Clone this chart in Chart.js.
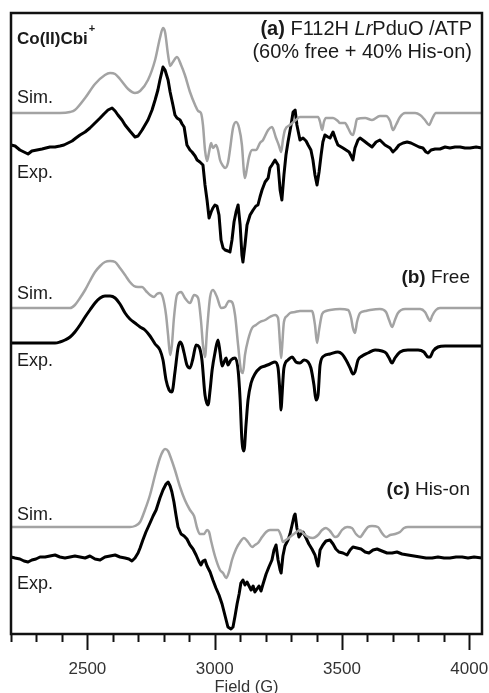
<!DOCTYPE html>
<html>
<head>
<meta charset="utf-8">
<script src="https://cdn.jsdelivr.net/npm/chart.js@4"></script>
<style>
  body { margin: 0; background: #fff; }
  #spectra { display: block; }
</style>
</head>
<body>
<canvas id="spectra" width="489" height="693"></canvas>
<script>
// EPR spectra of Co(II)Cbi+ : [field (G), derivative signal (arb. units)]
const simA = [[2200,0],[2392,0],[2432,1],[2451,3],[2491,15],[2530,29],[2569,38],[2589,40],[2609,39],[2628,34],[2660,24],[2687,20],[2707,22],[2738,33],[2766,53],[2785,75],[2797,85],[2805,81],[2817,58],[2825,47],[2836,51],[2852,56],[2868,48],[2883,38],[2903,21],[2923,8],[2935,2],[2946,0],[2954,-12],[2962,-37],[2970,-48],[2978,-39],[2986,-30],[2993,-35],[3005,-32],[3013,-37],[3021,-47],[3033,-53],[3041,-55],[3052,-50],[3060,-37],[3072,-15],[3084,-9],[3096,-15],[3107,-32],[3115,-59],[3119,-65],[3127,-55],[3135,-44],[3147,-37],[3162,-37],[3178,-30],[3190,-27],[3210,-17],[3225,-14],[3241,-25],[3253,-33],[3261,-39],[3268,-27],[3276,-17],[3296,-12],[3319,-7],[3335,-4],[3374,-4],[3406,-4],[3414,-9],[3422,-17],[3429,-9],[3437,-5],[3465,-5],[3484,-8],[3492,-10],[3512,-10],[3524,-15],[3536,-21],[3543,-22],[3551,-15],[3559,-6],[3591,-5],[3618,-7],[3649,-3],[3673,-3],[3689,-8],[3700,-17],[3712,-12],[3728,-4],[3748,0],[3787,0],[3807,-2],[3826,-7],[3842,-12],[3854,-6],[3869,0],[4050,0]];

const expA = [[2200,2],[2216,1],[2235,-3],[2251,-5],[2267,-7],[2282,-4],[2302,-3],[2322,-2],[2337,-1],[2353,0],[2373,0],[2392,1],[2408,2],[2424,4],[2440,6],[2455,9],[2471,12],[2491,15],[2510,19],[2530,24],[2550,29],[2565,33],[2581,37],[2597,39],[2609,36],[2620,32],[2636,27],[2648,22],[2667,16],[2687,10],[2699,11],[2715,17],[2738,27],[2754,37],[2766,47],[2777,57],[2785,67],[2797,80],[2805,77],[2817,67],[2825,55],[2836,42],[2844,32],[2852,29],[2864,27],[2872,23],[2880,20],[2891,2],[2903,-3],[2911,-5],[2923,-9],[2931,-13],[2942,-15],[2954,-18],[2962,-38],[2970,-53],[2978,-71],[2986,-65],[2993,-61],[3001,-58],[3009,-59],[3017,-68],[3025,-93],[3033,-101],[3041,-103],[3052,-104],[3060,-105],[3068,-93],[3076,-75],[3084,-65],[3092,-58],[3100,-78],[3107,-108],[3111,-115],[3119,-98],[3127,-78],[3139,-68],[3151,-63],[3162,-59],[3170,-58],[3178,-50],[3186,-43],[3198,-35],[3210,-31],[3217,-21],[3225,-18],[3237,-13],[3249,-18],[3257,-43],[3264,-53],[3272,-28],[3280,-8],[3288,5],[3300,22],[3308,35],[3316,37],[3323,22],[3335,7],[3347,9],[3359,6],[3367,2],[3378,-3],[3386,-13],[3394,-28],[3402,-38],[3410,-25],[3418,-8],[3425,5],[3433,12],[3445,10],[3453,9],[3465,15],[3476,7],[3484,2],[3504,-1],[3516,-3],[3528,-5],[3536,-9],[3543,-13],[3551,-1],[3563,7],[3571,9],[3587,6],[3602,3],[3618,0],[3634,5],[3649,7],[3669,2],[3689,-1],[3700,-5],[3712,-2],[3724,2],[3740,4],[3756,5],[3771,4],[3787,2],[3803,0],[3818,-1],[3830,-5],[3838,-6],[3850,-3],[3866,-2],[3885,-2],[3905,0],[3924,-1],[3944,0],[3964,0],[3983,-1],[4003,-1],[4027,0],[4050,-1]];

const simB = [[2200,0],[2432,0],[2451,3],[2471,10],[2491,18],[2510,27],[2530,36],[2550,42],[2569,46],[2589,47],[2609,46],[2628,40],[2648,33],[2667,26],[2683,22],[2699,21],[2715,21],[2730,17],[2746,13],[2762,11],[2773,14],[2785,15],[2797,10],[2809,-7],[2817,-27],[2825,-47],[2832,-37],[2840,-10],[2852,13],[2868,16],[2883,10],[2903,5],[2919,13],[2935,10],[2946,-12],[2954,-37],[2962,-49],[2970,-22],[2982,11],[2993,18],[3009,11],[3025,0],[3041,1],[3056,7],[3068,6],[3080,-7],[3092,-37],[3103,-62],[3111,-65],[3119,-47],[3131,-32],[3147,-20],[3162,-17],[3178,-14],[3198,-12],[3217,-9],[3237,-7],[3249,-10],[3257,-37],[3261,-50],[3264,-42],[3272,-14],[3284,-8],[3296,-5],[3316,-4],[3335,-3],[3359,-3],[3382,-3],[3394,-17],[3402,-35],[3410,-22],[3422,-6],[3437,-3],[3453,-2],[3492,-1],[3524,-2],[3536,-10],[3543,-20],[3551,-25],[3559,-14],[3571,-5],[3591,-3],[3610,-2],[3649,-1],[3673,-4],[3685,-12],[3697,-19],[3708,-12],[3720,-5],[3748,-1],[3807,-1],[3826,-4],[3838,-10],[3846,-13],[3854,-8],[3869,-2],[3885,0],[4050,0]];

const expB = [[2200,0],[2373,0],[2392,1],[2412,3],[2432,6],[2451,11],[2471,18],[2491,26],[2510,33],[2530,40],[2550,45],[2569,47],[2589,47],[2609,45],[2628,39],[2648,30],[2667,24],[2687,20],[2707,16],[2726,13],[2746,7],[2766,-1],[2785,-7],[2797,-17],[2809,-37],[2821,-47],[2832,-49],[2844,-29],[2856,-5],[2864,1],[2872,-2],[2880,-10],[2891,-22],[2903,-25],[2915,-15],[2927,-2],[2939,-4],[2950,-17],[2962,-52],[2974,-62],[2982,-47],[2990,-27],[3001,-10],[3013,3],[3021,-9],[3029,-23],[3037,-19],[3045,-15],[3052,-22],[3064,-17],[3080,-15],[3092,-27],[3100,-57],[3107,-97],[3115,-108],[3123,-82],[3131,-57],[3143,-40],[3158,-31],[3178,-25],[3198,-23],[3217,-21],[3237,-19],[3249,-25],[3257,-52],[3261,-67],[3264,-55],[3272,-25],[3288,-17],[3304,-14],[3319,-19],[3335,-20],[3351,-17],[3367,-19],[3378,-25],[3390,-42],[3398,-57],[3406,-52],[3414,-22],[3429,-13],[3453,-11],[3484,-9],[3500,-11],[3516,-17],[3532,-25],[3543,-31],[3551,-29],[3563,-17],[3579,-13],[3602,-10],[3630,-7],[3657,-8],[3673,-10],[3685,-15],[3697,-20],[3708,-15],[3728,-9],[3759,-7],[3799,-7],[3822,-9],[3838,-14],[3846,-14],[3858,-8],[3877,-4],[3905,-3],[4050,-3]];

const simC = [[2200,0],[2667,0],[2687,1],[2707,5],[2726,17],[2746,32],[2766,52],[2785,69],[2797,76],[2805,78],[2817,76],[2828,69],[2844,57],[2864,40],[2883,27],[2903,17],[2919,11],[2931,-1],[2942,-7],[2958,-7],[2970,-3],[2978,-5],[2986,-14],[3001,-29],[3021,-43],[3033,-46],[3045,-51],[3056,-45],[3068,-33],[3084,-22],[3100,-15],[3115,-11],[3131,-15],[3147,-20],[3158,-18],[3170,-16],[3186,-10],[3202,-5],[3217,-3],[3249,-3],[3261,-9],[3268,-15],[3280,-13],[3296,-10],[3316,-6],[3335,-3],[3351,-7],[3367,-10],[3386,-11],[3406,-8],[3422,-3],[3437,-1],[3453,-4],[3473,-10],[3484,-9],[3500,-3],[3520,0],[3539,-1],[3555,-7],[3571,-10],[3587,-5],[3602,0],[3618,1],[3641,0],[3657,-6],[3673,-10],[3689,-8],[3708,-7],[3728,-5],[3744,-1],[3759,0],[4050,0]];

const expC = [[2200,0],[2216,-1],[2235,-2],[2251,-4],[2267,-5],[2282,-3],[2298,-2],[2314,0],[2334,0],[2353,1],[2373,2],[2392,0],[2412,-1],[2432,0],[2451,1],[2471,0],[2491,-1],[2510,1],[2530,-2],[2550,-3],[2569,0],[2589,1],[2609,2],[2628,0],[2648,-1],[2663,-2],[2675,-4],[2687,-1],[2699,4],[2707,9],[2718,17],[2730,25],[2746,34],[2758,41],[2770,47],[2785,59],[2797,67],[2809,73],[2817,75],[2825,71],[2832,65],[2840,55],[2848,42],[2856,30],[2868,23],[2880,21],[2891,18],[2903,12],[2915,8],[2927,2],[2939,-5],[2946,-8],[2954,-4],[2962,-3],[2970,-9],[2982,-15],[2993,-23],[3005,-31],[3017,-38],[3029,-47],[3037,-55],[3045,-63],[3052,-70],[3064,-72],[3072,-70],[3080,-59],[3088,-47],[3096,-37],[3103,-26],[3111,-23],[3119,-28],[3127,-25],[3135,-29],[3143,-33],[3151,-29],[3158,-35],[3166,-32],[3174,-29],[3182,-34],[3190,-27],[3202,-17],[3213,-10],[3225,-3],[3233,7],[3241,12],[3249,-3],[3257,-13],[3261,-16],[3268,1],[3276,11],[3288,17],[3296,23],[3304,32],[3312,41],[3316,43],[3323,29],[3331,20],[3339,23],[3347,25],[3359,19],[3370,13],[3382,8],[3394,2],[3402,-6],[3406,-9],[3414,7],[3425,12],[3437,16],[3453,17],[3465,13],[3476,8],[3488,5],[3504,4],[3520,2],[3532,7],[3543,10],[3559,9],[3575,8],[3591,5],[3606,4],[3622,7],[3638,8],[3657,6],[3677,4],[3697,4],[3716,5],[3736,3],[3759,2],[3783,1],[3807,0],[3830,-1],[3854,-1],[3877,0],[3901,-1],[3924,-1],[3948,0],[3972,0],[3995,-1],[4019,0],[4050,-1]];

// stacking offsets for each trace
const offsetSimA = 521, offsetExpA = 487;
const offsetSimB = 326, offsetExpB = 291;
const offsetSimC = 107, offsetExpC = 77;

const fieldTicks = [2500, 3000, 3500, 4000];
const FONT = "'Liberation Sans', Arial, sans-serif";

// simulations are drawn smooth, measured spectra as plain segments
function trace(points, offset, color, width, smooth) {
  return {
    data: points.map(p => ({ x: p[0], y: p[1] + offset })),
    borderColor: color,
    borderWidth: width,
    borderJoinStyle: 'round',
    pointRadius: 0,
    showLine: true,
    fill: false,
    tension: 0,
    cubicInterpolationMode: smooth ? 'monotone' : 'default',
  };
}

function drawRuns(ctx, runs, x, y, align) {
  let total = 0;
  runs.forEach(r => { ctx.font = r.font; r.w = ctx.measureText(r.text).width; total += r.w; });
  let cx = align === 'right' ? x - total : x;
  runs.forEach(r => { ctx.font = r.font; ctx.fillText(r.text, cx, y); cx += r.w; });
  return cx;
}

const framePlugin = {
  id: 'frame',
  afterDraw(chart) {
    const { ctx, chartArea: a, scales } = chart;
    const xs = scales.x;
    ctx.save();
    ctx.strokeStyle = '#111';
    ctx.lineWidth = 2.5;
    ctx.strokeRect(a.left, a.top, a.right - a.left, a.bottom - a.top);

    // major and minor field ticks
    ctx.lineWidth = 2;
    for (let v = 2200; v <= 4000; v += 100) {
      const px = Math.round(xs.getPixelForValue(v)) + 0.5;
      const len = v % 500 === 0 ? 16 : 8;
      ctx.beginPath();
      ctx.moveTo(px, a.bottom);
      ctx.lineTo(px, a.bottom + len);
      ctx.stroke();
    }

    // labels
    ctx.fillStyle = '#1a1a1a';
    ctx.textBaseline = 'alphabetic';
    const end = drawRuns(ctx, [{ text: 'Co(II)Cbi', font: 'bold 17px ' + FONT }], 17, 44, 'left');
    ctx.font = 'bold 11px ' + FONT;
    ctx.fillText('+', end + 1, 32);

    const reg20 = '20px ' + FONT, bold20 = 'bold 20px ' + FONT, ital20 = 'italic 20px ' + FONT;
    drawRuns(ctx, [
      { text: '(a)', font: bold20 }, { text: ' F112H ', font: reg20 },
      { text: 'Lr', font: ital20 }, { text: 'PduO /ATP', font: reg20 }
    ], 472, 35, 'right');
    drawRuns(ctx, [{ text: '(60% free + 40% His-on)', font: reg20 }], 472, 58, 'right');

    const reg = '19px ' + FONT, bold = 'bold 19px ' + FONT;
    drawRuns(ctx, [{ text: '(b)', font: bold }, { text: ' Free', font: reg }], 470, 283, 'right');
    drawRuns(ctx, [{ text: '(c)', font: bold }, { text: ' His-on', font: reg }], 470, 495, 'right');

    ctx.font = '18px ' + FONT;
    [['Sim.', 103], ['Exp.', 178], ['Sim.', 299], ['Exp.', 366], ['Sim.', 520], ['Exp.', 589]]
      .forEach(([t, y]) => ctx.fillText(t, 17, y));
    ctx.restore();
  }
};

new Chart(document.getElementById('spectra'), {
  type: 'scatter',
  data: {
    datasets: [
      trace(simA, offsetSimA, '#a3a3a3', 2.5, true),
      trace(expA, offsetExpA, '#000', 3, false),
      trace(simB, offsetSimB, '#a3a3a3', 2.5, true),
      trace(expB, offsetExpB, '#000', 3, true),
      trace(simC, offsetSimC, '#a3a3a3', 2.5, true),
      trace(expC, offsetExpC, '#000', 3, false),
    ],
  },
  options: {
    responsive: false,
    animation: false,
    events: [],
    layout: { padding: { left: 11, right: 7, top: 13, bottom: 0 } },
    plugins: { legend: { display: false }, tooltip: { enabled: false } },
    scales: {
      x: {
        type: 'linear',
        min: 2200,
        max: 4050,
        afterBuildTicks: (scale) => { scale.ticks = fieldTicks.map(v => ({ value: v })); },
        afterFit: (scale) => {
          // keep the frame edge fixed; the 4000 label may overhang it
          scale.paddingRight = 0;
          scale.paddingLeft = 0;
          scale.height = 59;
        },
        ticks: {
          callback: (v) => String(v),
          autoSkip: false,
          maxRotation: 0,
          padding: 11,
          color: '#333',
          font: { family: FONT, size: 17, lineHeight: 1 },
        },
        grid: { drawOnChartArea: false, drawTicks: true, tickLength: 16, tickColor: 'rgba(0,0,0,0)' },
        border: { display: false },
        title: {
          display: true,
          text: 'Field (G)',
          color: '#333',
          font: { family: FONT, size: 16.5, lineHeight: 1 },
          padding: { top: 0, bottom: -3 },
        },
      },
      y: { display: false, min: 0, max: 621 },
    },
  },
  plugins: [framePlugin],
});
</script>
</body>
</html>
